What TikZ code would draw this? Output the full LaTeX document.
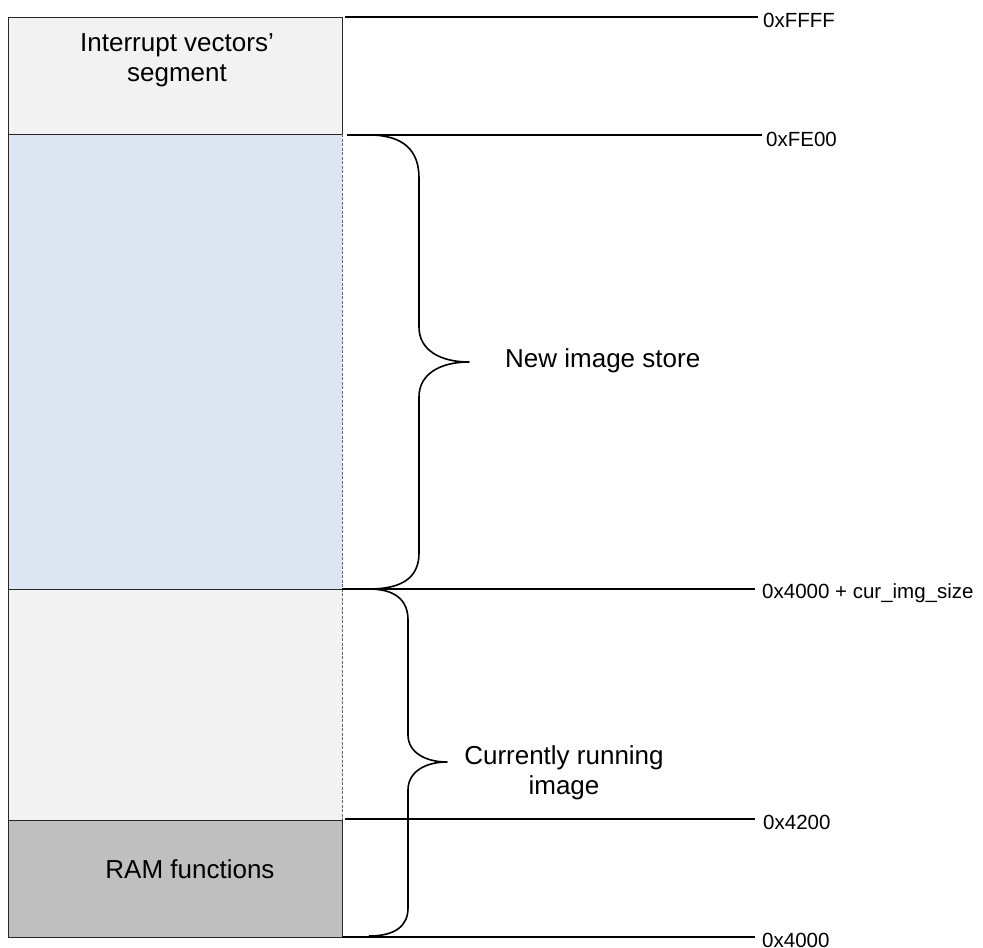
\documentclass[tikz,border=0pt]{standalone}
\usepackage{fontspec}
\setmainfont{Liberation Sans}
\begin{document}
\begin{tikzpicture}[x=1pt,y=-1pt,
  edge/.style={draw=black!85, line width=1pt},
  dashedge/.style={draw=black!60, line width=0.8pt, dashed, dash pattern=on 3pt off 1.5pt},
  addrline/.style={draw=black, line width=1.3pt},
  brace/.style={draw=black, line width=1.6pt, line join=round},
  big/.style={font=\fontsize{26}{30}\selectfont, align=center, inner sep=0pt},
  addr/.style={font=\fontsize{20.5}{24}\selectfont, inner sep=0pt, anchor=base west}]
\useasboundingbox (0,0) rectangle (983,948);

% memory segments
\fill[gray!10] (8,17)  rectangle (342,134);
\fill[fill={rgb,255:red,220;green,230;blue,242}] (8,134) rectangle (342,589);
\fill[gray!10] (8,589) rectangle (342,820);
\fill[gray!50] (8,820) rectangle (342,937);

% segment outlines
\path[edge] (8,17) -- (342,17) -- (342,134);
\path[edge] (8,17) -- (8,937) -- (342,937) -- (342,820);
\path[edge] (8,134) -- (342,134);
\path[edge] (8,589) -- (342,589);
\path[edge] (8,820) -- (342,820);
\path[dashedge] (342,134) -- (342,820);

% segment labels
\node[big] (ivs) at (177,60) {Interrupt vectors'\\segment};
\node[big, anchor=base] (ramf) at (190,878) {RAM functions};

% address markers
\coordinate (aFFFF) at (345,17);
\coordinate (aFE00) at (347,135);
\coordinate (aCur)  at (342,589);
\coordinate (a4200) at (345,819);
\coordinate (a4000) at (342,937);
\coordinate (eFFFF) at (758,17);
\coordinate (eFE00) at (762,135);
\coordinate (eCur)  at (755,589);
\coordinate (e4200) at (755,819);
\coordinate (e4000) at (755,937);
\node[addr] (lFFFF) at (763,27)  {0xFFFF};
\node[addr] (lFE00) at (766,146) {0xFE00};
\node[addr] (lCur)  at (762,598) {0x4000 + cur\_img\_size};
\node[addr] (l4200) at (763,829) {0x4200};
\node[addr] (l4000) at (762,947) {0x4000};
\path[addrline] (aFFFF) -- (eFFFF);
\path[addrline] (aFE00) -- (eFE00);
\path[addrline] (aCur)  -- (eCur);
\path[addrline] (a4200) -- (e4200);
\path[addrline] (a4000) -- (e4000);

% braces
\coordinate (nTip) at (469,362);
\coordinate (cTip) at (447,762);
\path[brace] (369,135) .. controls (403,135) and (419,150) .. (419,178)
  -- (419,327) .. controls (419,350) and (440,362) .. (nTip)
  .. controls (440,362) and (419,374) .. (419,397)
  -- (419,553) .. controls (419,577) and (403,589) .. (369,589);
\path[brace] (369,589) .. controls (395,589) and (408,600) .. (408,620)
  -- (408,735) .. controls (408,752) and (425,762) .. (cTip)
  .. controls (425,762) and (408,772) .. (408,790)
  -- (408,908) .. controls (408,926) and (395,936) .. (369,936);

% brace labels
\node[big, anchor=base west] (nis) at (505,367) {New image store};
\node[big] (cri) at (564,773) {Currently running\\image};
\end{tikzpicture}
\end{document}
